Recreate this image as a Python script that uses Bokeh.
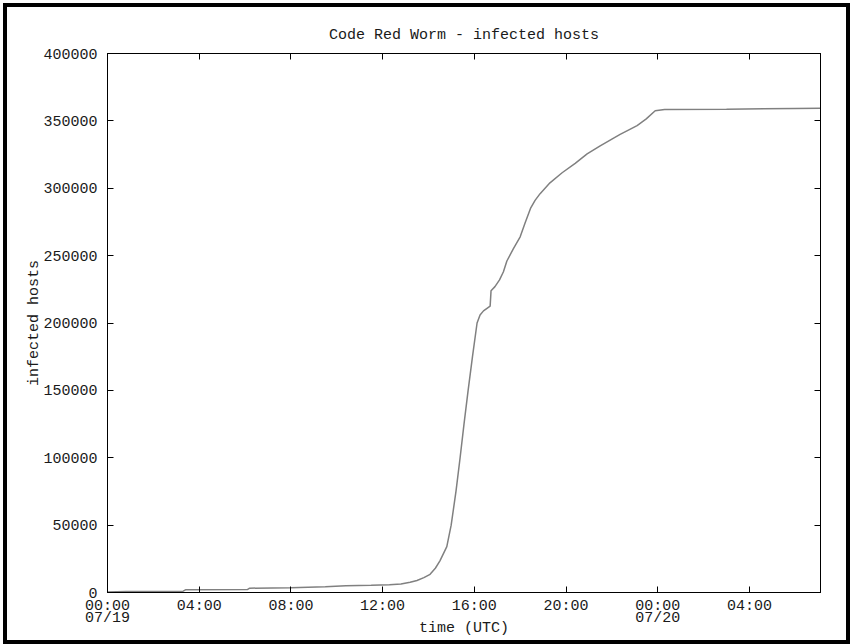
from bokeh.plotting import figure
from bokeh.models import FixedTicker, NumeralTickFormatter, LinearAxis, Range1d, CustomLabelingPolicy
from bokeh.embed import file_html
from bokeh.resources import INLINE

# hours since 00:00 UTC 07/19
hours = [0.0, 0.8, 3.3, 3.4, 6.1, 6.2, 8.0, 9.5, 10.4, 11.5, 12.3, 12.8, 13.2,
         13.5, 13.8, 14.07, 14.3, 14.5, 14.8, 14.99, 15.2, 15.38, 15.55, 15.73,
         15.92, 16.12, 16.25, 16.4, 16.69, 16.73, 16.9, 17.1, 17.27,
         17.42, 17.7, 18.0, 18.21, 18.45, 18.65, 18.87, 19.3, 19.83, 20.4, 20.92,
         21.49, 22.0, 22.36, 22.7, 23.1, 23.5, 23.89, 24.3, 27.0, 30.0, 31.1]
hosts = [300, 800, 1000, 2000, 2200, 3200, 3600, 4200, 5000, 5300, 5800, 6300, 7600,
         8900, 11000, 13500, 18000, 23500, 34000, 50000, 75000, 100000, 125000, 150000,
         175000, 200000, 206000, 209000, 212500, 224000, 227000, 232000, 238000,
         246000, 255000, 264000, 274000, 285000, 291000, 296000, 304000, 311500, 318500, 325500,
         331500, 336500, 340000, 343000, 346500, 351500, 357500, 358400, 358600, 359200, 359400]

x_ticks = [0, 4, 8, 12, 16, 20, 24, 28]
x_tick_labels = ["00:00\n07/19", "04:00", "08:00", "12:00", "16:00", "20:00", "00:00\n07/20", "04:00"]
y_ticks = [0, 50000, 100000, 150000, 200000, 250000, 300000, 350000, 400000]

FONT = "Liberation Mono"
FS = "15px"
TXT = "#1a1a1a"

W, H = 847, 641
p = figure(width=W, height=H, output_backend="svg", toolbar_location=None,
           x_range=Range1d(0, 31.1), y_range=Range1d(0, 400000),
           title="Code Red Worm - infected hosts",
           x_axis_label="time (UTC)", y_axis_label="infected hosts",
           min_border_left=100, min_border_right=34, min_border_top=46, min_border_bottom=56)
# thick black frame around the whole picture
p.styles = {"border": "4px solid black", "margin-left": "3px", "margin-top": "3px"}

p.grid.visible = False
p.outline_line_color = "black"
p.outline_line_width = 1
p.background_fill_color = "white"
p.border_fill_color = "white"

p.title.align = "center"
p.title.text_font = FONT
p.title.text_font_size = FS
p.title.text_font_style = "normal"
p.title.text_color = TXT
p.title.standoff = 19

p.line(hours, hosts, line_color="#808080", line_width=1.5)

xa = p.xaxis[0]
xa.ticker = FixedTicker(ticks=x_ticks)
xa.major_label_overrides = {t: l for t, l in zip(x_ticks, x_tick_labels)}
ya = p.yaxis[0]
ya.ticker = FixedTicker(ticks=y_ticks)
ya.formatter = NumeralTickFormatter(format="0")

for ax in (xa, ya):
    ax.major_tick_in = 6
    ax.major_tick_out = 0
    ax.minor_tick_line_color = None
    ax.axis_line_color = "black"
    ax.major_tick_line_color = "black"
    ax.major_label_text_font = FONT
    ax.major_label_text_font_size = FS
    ax.major_label_text_color = TXT
    ax.axis_label_text_font = FONT
    ax.axis_label_text_font_size = FS
    ax.axis_label_text_font_style = "normal"
    ax.axis_label_text_color = TXT

xa.major_label_standoff = 5
xa.major_label_text_line_height = 0.75
xa.axis_label_standoff = -10
ya.major_label_standoff = 10
ya.axis_label_standoff = -3

# mirrored tick axes (gnuplot style), ticks only, no labels
top = LinearAxis(ticker=FixedTicker(ticks=x_ticks))
right = LinearAxis(ticker=FixedTicker(ticks=y_ticks))
for ax in (top, right):
    ax.major_tick_in = 6
    ax.major_tick_out = 0
    ax.minor_tick_line_color = None
    ax.major_label_text_font_size = "0px"
    ax.major_label_standoff = 0
    ax.major_label_policy = CustomLabelingPolicy(code="return []")
    ax.axis_line_color = "black"
    ax.major_tick_line_color = "black"
p.add_layout(top, "above")
p.add_layout(right, "right")

open("out.html", "w").write(file_html(p, INLINE))
